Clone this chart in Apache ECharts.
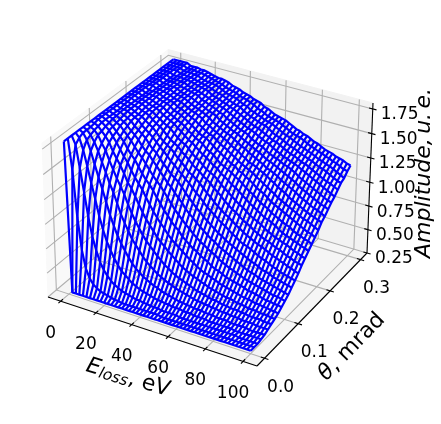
<!DOCTYPE html>
<html>
<head>
<meta charset="utf-8">
<style>html,body{margin:0;background:#fff}#main{width:441px;height:424px}</style>
<script src="https://cdn.jsdelivr.net/npm/echarts@6/dist/echarts.min.js"></script>
</head>
<body>
<div id="main"></div>
<script>
// ticks
const energyTicks = [0, 20, 40, 60, 80, 100];
const thetaTicks = [0.0, 0.1, 0.2, 0.3];
const ampTicks = [0.25, 0.5, 0.75, 1.0, 1.25, 1.5, 1.75];

// wire positions
const energies = [0,2,4,6,8,10,12,14,16,18,20,22,24,26,28,30,32,34,36,38,40,42,44,46,48,50,52,54,56,58,60,62,64,66,68,70,72,74,76,78,80,82,84,86,88,90,92,94,96,98,100];
const thetas = [0,.01,.02,.03,.04,.05,.06,.07,.08,.09,.1,.11,.12,.13,.14,.15,.16,.17,.18,.19,.2,.21,.22,.23,.24,.25,.26,.27,.28,.29,.3];

// amplitude[row of theta][column of energy]
const amplitude = [
  [1.80,.28,.28,.28,.28,.28,.28,.28,.28,.28, .28,.28,.28,.28,.28,.28,.28,.28,.28,.28, .28,.28,.28,.28,.28,.28,.28,.28,.28,.28, .28,.28,.28,.28,.28,.28,.28,.28,.28,.28, .28,.28,.28,.28,.28,.28,.28,.28,.28,.28, .28],
  [1.80,1.50,1.03,.71,.53,.44,.39,.36,.34,.33, .32,.31,.30,.30,.29,.29,.29,.29,.29,.29, .29,.29,.29,.29,.29,.28,.28,.28,.28,.28, .28,.28,.28,.28,.28,.28,.28,.28,.28,.28, .28,.28,.28,.28,.28,.28,.28,.28,.28,.28, .28],
  [1.80,1.72,1.50,1.27,1.03,.84,.71,.60,.53,.48, .44,.41,.39,.37,.36,.35,.34,.33,.33,.32, .32,.31,.31,.31,.30,.30,.30,.30,.30,.29, .29,.29,.29,.29,.29,.29,.29,.29,.29,.29, .29,.29,.29,.29,.29,.28,.28,.28,.28,.28, .28],
  [1.80,1.76,1.65,1.50,1.34,1.19,1.03,.90,.79,.71, .64,.58,.53,.50,.47,.44,.42,.40,.39,.38, .37,.36,.35,.35,.34,.34,.33,.33,.33,.32, .32,.32,.31,.31,.31,.31,.30,.30,.30,.30, .30,.30,.30,.29,.29,.29,.29,.29,.29,.29, .29],
  [1.80,1.78,1.72,1.62,1.50,1.38,1.27,1.15,1.03,.93, .84,.77,.71,.65,.60,.56,.53,.50,.48,.46, .44,.43,.41,.40,.39,.38,.37,.36,.36,.35, .35,.34,.34,.34,.33,.33,.33,.32,.32,.32, .32,.31,.31,.31,.31,.31,.30,.30,.30,.30, .30],
  [1.80,1.78,1.74,1.68,1.60,1.50,1.41,1.31,1.23,1.13, 1.03,.95,.88,.81,.76,.71,.66,.62,.59,.56, .53,.51,.49,.47,.46,.44,.43,.42,.41,.40, .39,.38,.38,.37,.37,.36,.36,.35,.35,.35, .34,.34,.34,.33,.33,.33,.33,.32,.32,.32, .32],
  [1.80,1.78,1.76,1.72,1.65,1.59,1.50,1.42,1.34,1.27, 1.20,1.11,1.03,.96,.90,.84,.79,.75,.71,.67, .64,.60,.58,.55,.53,.51,.50,.48,.47,.45, .44,.43,.42,.41,.40,.40,.39,.38,.38,.37, .37,.37,.36,.36,.35,.35,.35,.35,.34,.34, .34],
  [1.80,1.79,1.77,1.73,1.69,1.64,1.56,1.50,1.44,1.37, 1.29,1.24,1.17,1.10,1.03,.97,.92,.87,.82,.78, .75,.71,.68,.65,.62,.59,.57,.55,.53,.52, .50,.49,.47,.46,.45,.44,.43,.42,.42,.41, .40,.40,.39,.38,.38,.38,.37,.37,.37,.36, .36],
  [1.80,1.80,1.78,1.75,1.72,1.67,1.62,1.56,1.50,1.45, 1.38,1.32,1.27,1.22,1.15,1.09,1.03,.98,.93,.89, .84,.80,.77,.74,.71,.68,.65,.63,.60,.58, .56,.55,.53,.52,.50,.49,.48,.47,.46,.45, .44,.43,.43,.42,.41,.41,.40,.40,.39,.39, .38],
  [1.80,1.80,1.78,1.76,1.73,1.69,1.65,1.61,1.55,1.50, 1.46,1.40,1.34,1.29,1.25,1.20,1.14,1.09,1.03,.99, .94,.90,.87,.82,.79,.76,.73,.71,.68,.66, .64,.61,.59,.58,.56,.54,.53,.52,.51,.50, .49,.47,.47,.46,.45,.44,.43,.43,.42,.42, .41],
  [1.80,1.80,1.78,1.77,1.74,1.72,1.68,1.64,1.60,1.55, 1.50,1.46,1.41,1.36,1.31,1.27,1.23,1.18,1.13,1.08, 1.03,.99,.95,.91,.88,.84,.81,.78,.76,.73, .71,.69,.66,.64,.62,.60,.59,.57,.56,.54, .53,.52,.51,.50,.49,.48,.47,.46,.46,.45, .44],
  [1.80,1.80,1.78,1.77,1.75,1.73,1.70,1.66,1.63,1.59, 1.54,1.50,1.47,1.42,1.38,1.33,1.29,1.24,1.21,1.16, 1.12,1.08,1.03,.99,.96,.92,.89,.86,.83,.80, .78,.75,.73,.71,.69,.67,.65,.63,.61,.59, .58,.57,.55,.54,.53,.52,.51,.50,.49,.48, .47],
  [1.80,1.80,1.78,1.78,1.76,1.74,1.72,1.68,1.65,1.62, 1.59,1.54,1.50,1.47,1.42,1.38,1.34,1.30,1.27,1.24, 1.20,1.15,1.11,1.07,1.03,1.00,.96,.93,.90,.87, .84,.82,.79,.77,.75,.73,.71,.69,.67,.65, .64,.62,.60,.59,.58,.56,.55,.54,.53,.52, .51],
  [1.80,1.80,1.78,1.78,1.77,1.75,1.73,1.71,1.67,1.64, 1.61,1.58,1.54,1.50,1.47,1.43,1.39,1.36,1.32,1.29, 1.25,1.22,1.18,1.14,1.11,1.07,1.03,1.00,.97,.94, .91,.89,.86,.83,.81,.78,.76,.75,.73,.71, .69,.67,.66,.64,.62,.61,.59,.58,.57,.56, .55],
  [1.80,1.80,1.79,1.78,1.77,1.75,1.73,1.72,1.69,1.66, 1.64,1.60,1.56,1.53,1.50,1.48,1.44,1.40,1.37,1.33, 1.29,1.27,1.24,1.21,1.17,1.13,1.10,1.06,1.03,1.00, .97,.95,.92,.89,.87,.84,.82,.80,.78,.76, .75,.73,.71,.69,.68,.66,.65,.63,.62,.60, .59],
  [1.80,1.80,1.79,1.78,1.77,1.76,1.74,1.73,1.71,1.68, 1.65,1.63,1.60,1.56,1.53,1.50,1.48,1.44,1.41,1.38, 1.34,1.31,1.29,1.25,1.23,1.20,1.16,1.13,1.10,1.06, 1.03,1.00,.98,.95,.92,.90,.88,.85,.83,.81, .79,.78,.76,.74,.73,.71,.69,.68,.66,.65, .64],
  [1.80,1.80,1.80,1.78,1.78,1.77,1.75,1.73,1.72,1.69, 1.67,1.64,1.62,1.60,1.56,1.53,1.50,1.48,1.45,1.41, 1.38,1.36,1.32,1.29,1.27,1.25,1.22,1.18,1.15,1.12, 1.09,1.06,1.03,1.01,.98,.95,.93,.91,.89,.86, .84,.82,.80,.79,.77,.76,.74,.72,.71,.69, .68],
  [1.80,1.80,1.80,1.78,1.78,1.77,1.75,1.74,1.73,1.71, 1.68,1.66,1.64,1.62,1.59,1.56,1.53,1.50,1.48,1.45, 1.42,1.39,1.37,1.34,1.31,1.29,1.25,1.23,1.20,1.17, 1.15,1.12,1.09,1.06,1.03,1.01,.98,.96,.93,.92, .90,.88,.85,.83,.81,.80,.78,.77,.75,.74, .72],
  [1.80,1.80,1.80,1.78,1.78,1.77,1.76,1.74,1.73,1.72, 1.69,1.67,1.65,1.63,1.61,1.59,1.55,1.53,1.50,1.48, 1.46,1.42,1.40,1.38,1.34,1.31,1.29,1.27,1.25,1.22, 1.20,1.17,1.14,1.11,1.09,1.06,1.03,1.01,.99,.96, .94,.92,.90,.88,.87,.84,.82,.81,.79,.78, .76],
  [1.80,1.80,1.80,1.78,1.78,1.77,1.77,1.75,1.74,1.73, 1.71,1.68,1.67,1.65,1.63,1.60,1.58,1.55,1.52,1.50, 1.49,1.46,1.43,1.40,1.38,1.35,1.33,1.30,1.29,1.25, 1.24,1.21,1.19,1.16,1.13,1.11,1.09,1.06,1.03,1.01, .99,.97,.95,.93,.91,.89,.87,.85,.83,.82, .80],
  [1.80,1.80,1.80,1.78,1.78,1.78,1.77,1.75,1.74,1.73, 1.72,1.69,1.68,1.66,1.64,1.62,1.60,1.57,1.55,1.52, 1.50,1.49,1.46,1.43,1.41,1.39,1.36,1.34,1.31,1.29, 1.27,1.25,1.23,1.20,1.18,1.15,1.13,1.10,1.08,1.05, 1.03,1.01,.99,.97,.95,.93,.91,.90,.88,.86, .84],
  [1.80,1.80,1.80,1.80,1.78,1.78,1.77,1.76,1.75,1.73, 1.72,1.71,1.69,1.67,1.65,1.64,1.62,1.60,1.56,1.55, 1.52,1.50,1.48,1.46,1.44,1.41,1.39,1.37,1.34,1.32, 1.29,1.28,1.26,1.24,1.22,1.20,1.17,1.15,1.12,1.10, 1.08,1.05,1.03,1.01,.99,.97,.95,.93,.92,.90, .89],
  [1.80,1.80,1.80,1.80,1.78,1.78,1.77,1.77,1.75,1.74, 1.73,1.72,1.70,1.68,1.66,1.65,1.63,1.61,1.59,1.56, 1.54,1.52,1.50,1.48,1.47,1.44,1.42,1.39,1.38,1.35, 1.33,1.31,1.29,1.27,1.24,1.23,1.21,1.19,1.16,1.14, 1.12,1.10,1.08,1.05,1.03,1.01,.99,.97,.96,.94, .92],
  [1.80,1.80,1.80,1.80,1.78,1.78,1.77,1.77,1.76,1.74, 1.73,1.72,1.71,1.69,1.67,1.66,1.64,1.62,1.61,1.59, 1.56,1.54,1.52,1.50,1.48,1.47,1.44,1.42,1.40,1.38, 1.36,1.34,1.32,1.29,1.28,1.26,1.24,1.22,1.20,1.18, 1.16,1.14,1.11,1.09,1.07,1.05,1.03,1.01,.99,.98, .96],
  [1.80,1.80,1.80,1.80,1.78,1.78,1.78,1.77,1.76,1.75, 1.74,1.73,1.72,1.71,1.68,1.67,1.65,1.64,1.62,1.60, 1.59,1.56,1.54,1.52,1.50,1.48,1.47,1.45,1.42,1.40, 1.38,1.37,1.34,1.32,1.30,1.29,1.27,1.25,1.24,1.22, 1.20,1.17,1.15,1.13,1.11,1.09,1.07,1.05,1.03,1.01, 1.00],
  [1.80,1.80,1.80,1.80,1.78,1.78,1.78,1.77,1.77,1.75, 1.74,1.73,1.72,1.71,1.69,1.68,1.66,1.65,1.63,1.62, 1.60,1.58,1.56,1.54,1.52,1.50,1.48,1.47,1.45,1.43, 1.41,1.39,1.38,1.35,1.33,1.31,1.29,1.28,1.26,1.25, 1.23,1.21,1.19,1.17,1.15,1.13,1.11,1.09,1.07,1.05, 1.03],
  [1.80,1.80,1.80,1.80,1.78,1.78,1.78,1.77,1.77,1.76, 1.75,1.74,1.73,1.72,1.71,1.68,1.67,1.66,1.64,1.63, 1.61,1.60,1.58,1.56,1.54,1.52,1.50,1.48,1.47,1.45, 1.43,1.41,1.39,1.38,1.36,1.34,1.32,1.30,1.29,1.27, 1.25,1.24,1.22,1.20,1.18,1.16,1.14,1.12,1.11,1.09, 1.07],
  [1.80,1.80,1.80,1.80,1.80,1.78,1.78,1.77,1.77,1.76, 1.75,1.74,1.73,1.72,1.71,1.69,1.68,1.67,1.65,1.64, 1.62,1.61,1.60,1.57,1.55,1.53,1.52,1.50,1.49,1.48, 1.46,1.43,1.41,1.40,1.38,1.36,1.34,1.33,1.31,1.29, 1.28,1.26,1.25,1.23,1.21,1.20,1.18,1.16,1.14,1.12, 1.11],
  [1.80,1.80,1.80,1.80,1.80,1.78,1.78,1.78,1.77,1.77, 1.75,1.74,1.73,1.73,1.72,1.71,1.69,1.67,1.66,1.65, 1.64,1.62,1.60,1.59,1.56,1.55,1.53,1.52,1.50,1.49, 1.48,1.46,1.44,1.42,1.40,1.39,1.37,1.35,1.33,1.32, 1.30,1.29,1.27,1.25,1.24,1.22,1.21,1.19,1.17,1.15, 1.13],
  [1.80,1.80,1.80,1.80,1.80,1.78,1.78,1.78,1.77,1.77, 1.76,1.75,1.74,1.73,1.72,1.71,1.69,1.68,1.67,1.66, 1.64,1.63,1.62,1.60,1.59,1.56,1.55,1.53,1.51,1.50, 1.49,1.48,1.46,1.44,1.42,1.40,1.39,1.38,1.36,1.34, 1.32,1.31,1.29,1.28,1.26,1.25,1.23,1.22,1.20,1.18, 1.17],
  [1.80,1.80,1.80,1.80,1.80,1.78,1.78,1.78,1.77,1.77, 1.76,1.75,1.74,1.73,1.73,1.72,1.71,1.69,1.68,1.67, 1.65,1.64,1.63,1.61,1.60,1.59,1.56,1.55,1.53,1.51, 1.50,1.49,1.48,1.46,1.44,1.42,1.41,1.39,1.38,1.36, 1.34,1.33,1.31,1.29,1.28,1.27,1.25,1.24,1.23,1.21, 1.20]
];

// axis limits of the 3d box
const eLim = [-7.3, 107.3];
const tLim = [-0.0219, 0.3219];
const aLim = [0.25, 1.81];

// camera, maps the unit box to the page
const camera = [
  [196.28, 136.04, -7.55, 48],
  [50.89, -85.71, -159.3, 297],
  [-0.04948, 0.08578, -0.0369, 1]
];

function project(e, t, a) {
  const u = (e - eLim[0]) / (eLim[1] - eLim[0]);
  const v = (t - tLim[0]) / (tLim[1] - tLim[0]);
  const w = (a - aLim[0]) / (aLim[1] - aLim[0]);
  const h = camera.map(r => r[0] * u + r[1] * v + r[2] * w + r[3]);
  return [h[0] / h[2], h[1] / h[2]];
}

const [e0, e1] = eLim, [t0, t1] = tLim, [a0, a1] = aLim;

// panes
const panes = [
  { color: '#f9f9f9', pts: [[e0, t0, a0], [e0, t1, a0], [e0, t1, a1], [e0, t0, a1]] },
  { color: '#f2f2f2', pts: [[e0, t1, a0], [e1, t1, a0], [e1, t1, a1], [e0, t1, a1]] },
  { color: '#f5f5f5', pts: [[e0, t0, a0], [e1, t0, a0], [e1, t1, a0], [e0, t1, a0]] }
];

// grid lines as polylines
const gridLines = [];
energyTicks.forEach(e => gridLines.push([[e, t0, a0], [e, t1, a0], [e, t1, a1]]));
thetaTicks.forEach(t => gridLines.push([[e1, t, a0], [e0, t, a0], [e0, t, a1]]));
ampTicks.forEach(a => gridLines.push([[e0, t0, a], [e0, t1, a], [e1, t1, a]]));

// axis lines and tick marks
const axisLines = [
  [[e0, t0, a0], [e1, t0, a0]],
  [[e1, t0, a0], [e1, t1, a0]],
  [[e1, t1, a0], [e1, t1, a1]]
];
energyTicks.forEach(e => axisLines.push([[e, t0 - 0.006, a0], [e, t0 + 0.006, a0]]));
thetaTicks.forEach(t => axisLines.push([[e1 - 2, t, a0], [e1 + 2, t, a0]]));
ampTicks.forEach(a => axisLines.push([[e1 - 2, t1, a], [e1 + 2, t1, a]]));

function xyOf(p) { return project(p[0], p[1], p[2]); }

function polySeries(list, kind, z) {
  return {
    type: 'custom',
    silent: true,
    animation: false,
    clip: false,
    z: z,
    data: list.map((d, i) => [i, 0]),
    encode: { x: 0, y: 1 },
    renderItem: function (params, api) {
      const d = list[params.dataIndex];
      const pts = (d.pts || d).map(p => api.coord(xyOf(p)));
      if (kind === 'pane') {
        return { type: 'polygon', shape: { points: pts }, style: { fill: d.color, stroke: d.color, lineWidth: 1 } };
      }
      const st = kind === 'grid'
        ? { stroke: '#b0b0b0', lineWidth: 1.1, fill: null }
        : { stroke: '#000', lineWidth: 1.1, fill: null };
      return { type: 'polyline', shape: { points: pts }, style: st };
    }
  };
}

// text labels
const labels = [];
const tickFont = '17px "DejaVu Sans"';
energyTicks.forEach(e => {
  const p = project(e, t0, a0);
  labels.push({ x: p[0] - 10, y: p[1] + 32, text: String(e), align: 'center', font: tickFont });
});
thetaTicks.forEach(t => {
  const p = project(e1, t, a0);
  labels.push({ x: p[0] + 16, y: p[1] + 29, text: t.toFixed(1), align: 'center', font: tickFont });
});
ampTicks.forEach(a => {
  const p = project(e1, t1, a);
  labels.push({ x: p[0] + 8, y: p[1] + 6, text: a.toFixed(2), align: 'left', font: tickFont });
});
labels.push({
  x: 128, y: 378, rotation: -0.3, align: 'center',
  text: '{i|E}{s|loss}{n|, eV}',
  rich: {
    i: { font: 'italic 22px "DejaVu Sans"', fill: '#000', verticalAlign: 'middle' },
    s: { font: 'italic 15.5px "DejaVu Sans"', fill: '#000', padding: [8, 0, 0, 0] },
    n: { font: '22px "DejaVu Sans"', fill: '#000' }
  }
});
labels.push({
  x: 352, y: 347, rotation: 0.8, align: 'center',
  text: '{i|\u03b8}{n|, mrad}',
  rich: {
    i: { font: 'italic 22px "DejaVu Sans"', fill: '#000' },
    n: { font: '22px "DejaVu Sans"', fill: '#000' }
  }
});
labels.push({
  x: 424, y: 173, rotation: Math.PI / 2, align: 'center',
  text: 'Amplitude,\u2009u.\u2009e.', font: 'italic 22px "DejaVu Sans"'
});

const labelSeries = {
  type: 'custom',
  silent: true,
  animation: false,
  clip: false,
  z: 9,
  data: labels.map((d, i) => [i, 0]),
  encode: { x: 0, y: 1 },
  renderItem: function (params, api) {
    const d = labels[params.dataIndex];
    const c = api.coord([d.x, d.y]);
    return {
      type: 'text',
      x: c[0],
      y: c[1],
      rotation: d.rotation || 0,
      style: {
        text: d.text,
        font: d.font,
        rich: d.rich,
        fill: '#000',
        align: d.align,
        verticalAlign: 'middle'
      }
    };
  }
};

function wire(points) {
  return {
    type: 'line',
    silent: true,
    animation: false,
    showSymbol: false,
    z: 5,
    clip: false,
    lineStyle: { color: '#0000ff', width: 2.2, join: 'round' },
    data: points
  };
}

const wires = [];
thetas.forEach((t, j) => {
  wires.push(wire(energies.map((e, i) => project(e, t, amplitude[j][i]))));
});
energies.forEach((e, i) => {
  wires.push(wire(thetas.map((t, j) => project(e, t, amplitude[j][i]))));
});

const chart = echarts.init(document.getElementById('main'), null, { renderer: 'canvas' });
chart.setOption({
  animation: false,
  grid: { left: 0, right: 0, top: 0, bottom: 0 },
  xAxis: { type: 'value', min: 0, max: 441, show: false },
  yAxis: { type: 'value', min: 0, max: 424, inverse: true, show: false },
  series: [
    polySeries(panes, 'pane', 1),
    polySeries(gridLines, 'grid', 2),
    polySeries(axisLines, 'axis', 3),
    labelSeries
  ].concat(wires)
});
</script>
</body>
</html>
